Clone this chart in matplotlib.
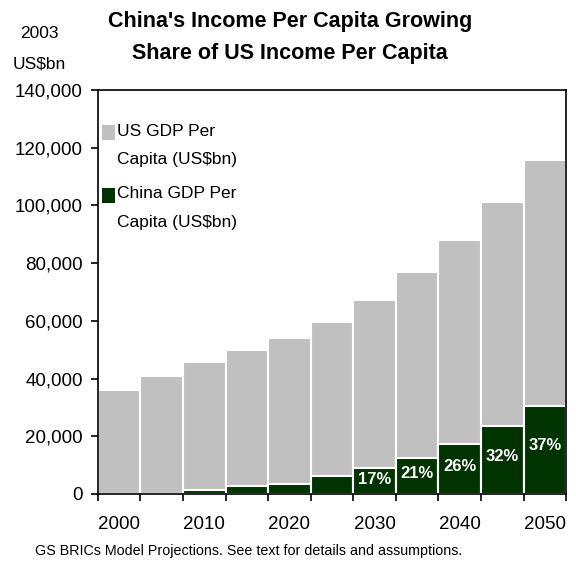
import matplotlib
matplotlib.use("Agg")
import matplotlib.pyplot as plt
import matplotlib.ticker as mticker
from matplotlib.patches import Rectangle

plt.rcParams['font.family'] = ['Liberation Sans', 'DejaVu Sans']

years = [2000, 2005, 2010, 2015, 2020, 2025, 2030, 2035, 2040, 2045, 2050]
us_gdp = [36000, 40900, 45800, 49900, 54000, 59600, 67200, 76900, 88100, 101200, 115700]
china_gdp = [0, 0, 1400, 2900, 3600, 6300, 9100, 12600, 17300, 23600, 30500]
share_labels = ['', '', '', '', '', '', '17%', '21%', '26%', '32%', '37%']
year_labels = ['2000', '2010', '2020', '2030', '2040', '2050']
legend_labels = ['US GDP Per\nCapita (US$bn)', 'China GDP Per\nCapita (US$bn)']

grey = '#c0c0c0'
green = '#003300'

fig = plt.figure(figsize=(5.76, 5.63), dpi=100)
ax = fig.add_axes([0.170, 0.1226, 0.813, 0.7174])

pos = list(range(len(years)))
ax.bar(pos, us_gdp, width=1.0, color=grey, edgecolor='white', linewidth=1.5)
ax.bar(pos, china_gdp, width=1.0, color=green, edgecolor='white', linewidth=1.5)

for i, lab in enumerate(share_labels):
    if lab:
        ax.text(i, china_gdp[i] * 0.55, lab, color='white', fontsize=12,
                fontweight='bold', ha='center', va='center')

ax.set_xlim(-0.5, len(years) - 0.5)
ax.set_ylim(0, 140000)
ax.set_yticks(range(0, 140001, 20000))
ax.yaxis.set_major_formatter(mticker.StrMethodFormatter('{x:,.0f}'))
ax.tick_params(axis='y', labelsize=13.5, length=5, width=1.2, direction='out', pad=6)

# boundaries between bars get the tick marks, labels sit under every other bar
ax.set_xticks([p - 0.5 for p in pos] + [pos[-1] + 0.5])
ax.set_xticklabels([])
ax.set_xticks(pos[::2], minor=True)
ax.set_xticklabels(year_labels, minor=True)
ax.tick_params(axis='x', which='major', length=5, width=1.2, direction='out')
ax.tick_params(axis='x', which='minor', length=0, labelsize=13.5, pad=16)

for s in ax.spines.values():
    s.set_linewidth(1.2)

# hand-made legend: square beside the first line of each two-line label
for k, (lab, col) in enumerate(zip(legend_labels, [grey, green])):
    y0 = 0.895 - k * 0.155
    ax.add_patch(Rectangle((0.009, y0 - 0.019), 0.027, 0.037, transform=ax.transAxes,
                           facecolor=col, edgecolor='none'))
    ax.text(0.041, y0 + 0.022, lab, transform=ax.transAxes, fontsize=12.5,
            ha='left', va='top', linespacing=2.15)

fig.text(0.503, 0.961, "China's Income Per Capita Growing", ha='center', va='center',
         fontsize=15.5, fontweight='bold')
fig.text(0.503, 0.905, "Share of US Income Per Capita", ha='center', va='center',
         fontsize=15.5, fontweight='bold')
fig.text(0.068, 0.940, '2003', ha='center', va='center', fontsize=12.5)
fig.text(0.068, 0.886, 'US$bn', ha='center', va='center', fontsize=12.5)
fig.text(0.061, 0.021, 'GS BRICs Model Projections. See text for details and assumptions.',
         ha='left', va='center', fontsize=10.3)

fig.savefig('out.png', dpi=100)
